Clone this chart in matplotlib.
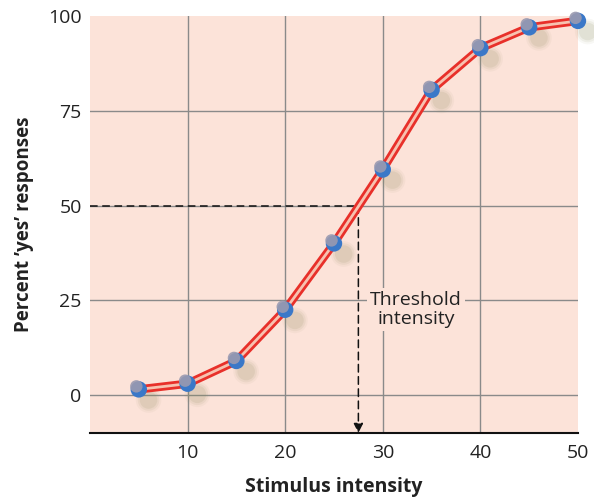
import matplotlib
matplotlib.use("Agg")
import matplotlib.pyplot as plt
import numpy as np

stimulus = [5, 10, 15, 20, 25, 30, 35, 40, 45, 50]
percent_yes = [1.5, 3, 9, 22.5, 40, 59.5, 80.5, 91.5, 97, 98.7]
threshold_x = 27.5
threshold_y = 50
x_ticks = [10, 20, 30, 40, 50]
y_ticks = [0, 25, 50, 75, 100]

plt.rcParams['font.family'] = ['Open Sans', 'DejaVu Sans']

fig = plt.figure(figsize=(5.94, 4.99), dpi=100)
ax = fig.add_axes([0.1515, 0.1323, 0.8215, 0.8357])
ax.set_facecolor('#fce3d9')
ax.set_xlim(0, 50)
ax.set_ylim(-10, 100)

for s in ['top', 'right', 'left']:
    ax.spines[s].set_visible(False)
ax.spines['bottom'].set_linewidth(1.5)
ax.spines['bottom'].set_color('#111111')

ax.set_xticks(x_ticks)
ax.set_yticks(y_ticks)
ax.tick_params(axis='both', length=0, labelsize=14, colors='#222222')
ax.tick_params(axis='x', pad=8)
ax.tick_params(axis='y', pad=6)

# grid lines (interior only)
for xv in x_ticks[:-1]:
    ax.axvline(xv, color='#8a8a8a', lw=1.0, zorder=1)
for yv in y_ticks[:-1]:
    ax.axhline(yv, color='#8a8a8a', lw=1.0, zorder=1)

ax.set_xlabel('Stimulus intensity', fontsize=14, fontweight='bold', color='#222222', labelpad=11)
ax.set_ylabel('Percent \u2019yes\u2019 responses', fontsize=13.5, fontweight='bold', color='#222222', labelpad=10)

# threshold dashed lines
ax.plot([0, threshold_x], [threshold_y, threshold_y], ls=(0, (5, 3)), color='#111111', lw=1.1, zorder=3)
ax.annotate('', xy=(threshold_x, -10), xytext=(threshold_x, threshold_y),
            arrowprops=dict(arrowstyle='-|>', linestyle=(0, (5, 3)), color='#111111', lw=1.1,
                            mutation_scale=14, shrinkA=0, shrinkB=0), zorder=3)

ax.text(33.4, 22.5, 'Threshold\nintensity', ha='center', va='center', fontsize=14,
        color='#222222', linespacing=1.1,
        bbox=dict(boxstyle='square,pad=0.15', fc='#fce3d9', ec='none'), zorder=3)

# shadows
sx = np.array(stimulus) + 1.0
sy = np.array(percent_yes) - 2.8
for size, alpha in [(340, 0.06), (240, 0.09), (160, 0.12)]:
    ax.scatter(sx, sy, s=size, color='#8a8a5a', alpha=alpha, edgecolors='none', zorder=4, clip_on=False)

# curve
ax.plot(stimulus, percent_yes, color='#e8302a', lw=6, solid_capstyle='round', zorder=5, clip_on=False)
ax.plot(stimulus, percent_yes, color='#f7c2b0', lw=2, solid_capstyle='round', zorder=6, clip_on=False)

# markers
ax.scatter(stimulus, percent_yes, s=140, color='#3a78c8', edgecolors='none', zorder=7, clip_on=False)
ax.scatter(np.array(stimulus) - 0.25, np.array(percent_yes) + 0.8, s=80, color='#9a9ab0',
           alpha=0.9, edgecolors='none', zorder=8, clip_on=False)

fig.savefig('out.png', dpi=100)
